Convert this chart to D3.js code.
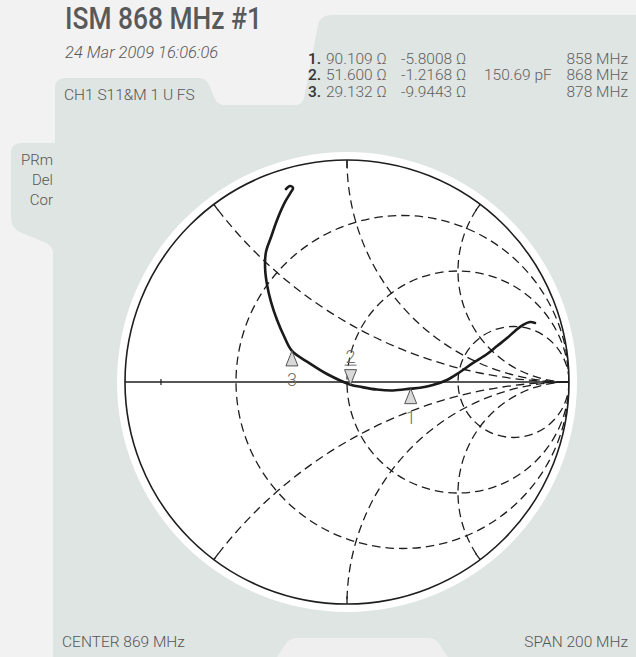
<!DOCTYPE html>
<html>
<head>
<meta charset="utf-8">
<script src="https://cdn.jsdelivr.net/npm/d3@7"></script>
<style>
  html, body { margin: 0; padding: 0; background: #f2f2f2; }
  svg { display: block; }
  text { font-family: Roboto, "Liberation Sans", "DejaVu Sans", sans-serif; }
</style>
</head>
<body>
<svg id="chart" width="636" height="657"></svg>
<script>
// ---- Sweep: S11 reflection coefficient (real / imaginary) vs frequency ----
const freqMHz = [769, 771, 774, 778, 783, 789, 796, 805, 816, 828, 840, 850, 858,
                 862, 865, 867, 868, 871, 875, 878, 881, 885, 890, 895, 901, 909,
                 918, 930, 943, 957, 963, 966, 969];
const s11Re = [0.847, 0.824, 0.793, 0.757, 0.721, 0.676, 0.631, 0.568, 0.509, 0.450,
               0.387, 0.329, 0.287, 0.207, 0.135, 0.068, 0.016, -0.090, -0.171, -0.248,
               -0.284, -0.315, -0.342, -0.360, -0.369, -0.365, -0.342, -0.315, -0.279,
               -0.252, -0.243, -0.257, -0.275];
const s11Im = [0.266, 0.270, 0.257, 0.230, 0.198, 0.162, 0.126, 0.086, 0.045, 0.009,
               -0.014, -0.026, -0.030, -0.038, -0.034, -0.023, -0.012, 0.036, 0.086, 0.140,
               0.207, 0.279, 0.360, 0.437, 0.514, 0.586, 0.653, 0.730, 0.811,
               0.856, 0.874, 0.883, 0.869];

// ---- Markers ----
const markerIds = ["1", "2", "3"];
const markerFreq = [858, 868, 878];
const markerRes = [90.109, 51.600, 29.132];      // Ω
const markerReact = [-5.8008, -1.2168, -9.9443]; // Ω
const markerCap = [null, 150.69, null];          // pF
const activeMarker = "2";

// ---- Smith grid ----
const resistanceCircles = [1 / 3, 1, 3];
const reactanceArcs = [0.5, 1, 2, -0.5, -1, -2];
const axisTicks = [-0.838];

// ---- Annotations ----
const titleText = "ISM 868 MHz #1";
const dateText = "24 Mar 2009 16:06:06";
const channelText = "CH1 S11&M 1 U FS";
const statusFlags = ["PRm", "Del", "Cor"];
const centerText = "CENTER 869 MHz";
const spanText = "SPAN 200 MHz";

const svg = d3.select("#chart");
const W = 636, H = 657;

// background + panel
svg.append("rect").attr("width", W).attr("height", H).attr("fill", "#f2f2f2");
svg.append("path")
  .attr("fill", "#dfe5e2")
  .attr("d", "M53,657 L53,252 Q52,245 44,242 L22,233 Q11,229 11,217 L11,153 Q11,143 21,143 " +
             "L55,143 L55,88 Q55,78 65,78 L199,78 Q206,78 209,85 L215,99 Q218,105 225,105 " +
             "L296,105 Q302,105 304,98 L318,25 Q320,15 331,15 L636,15 L636,657 Z");
svg.append("path")
  .attr("fill", "#efefef")
  .attr("d", "M277,657 L285,645 Q289,638 297,638 L428,638 Q436,638 440,645 L448,657 Z");

// scales for the reflection-coefficient plane
const cx = 347, cy = 382, R = 222;
const gx = d3.scaleLinear().domain([-1, 1]).range([cx - R, cx + R]);
const gy = d3.scaleLinear().domain([-1, 1]).range([cy + R, cy - R]);
const rad = v => gx(v) - gx(0);

svg.append("circle").attr("cx", gx(0)).attr("cy", gy(0)).attr("r", rad(1) + 8).attr("fill", "#ffffff");

svg.append("defs").append("clipPath").attr("id", "unit")
  .append("circle").attr("cx", gx(0)).attr("cy", gy(0)).attr("r", rad(1));

const grid = svg.append("g").attr("clip-path", "url(#unit)")
  .attr("fill", "none").attr("stroke", "#1e1e1e").attr("stroke-width", 1.3)
  .attr("stroke-dasharray", "8.5,5");

grid.selectAll("circle.r").data(resistanceCircles).join("circle")
  .attr("class", "r")
  .attr("cx", r => gx(r / (1 + r)))
  .attr("cy", gy(0))
  .attr("r", r => rad(1 / (1 + r)));

grid.selectAll("circle.x").data(reactanceArcs).join("circle")
  .attr("class", "x")
  .attr("cx", gx(1))
  .attr("cy", x => gy(1 / x))
  .attr("r", x => rad(1 / Math.abs(x)));

// real axis
svg.append("line")
  .attr("x1", gx(-1)).attr("x2", gx(1)).attr("y1", gy(0)).attr("y2", gy(0))
  .attr("stroke", "#1e1e1e").attr("stroke-width", 1.3);

// outer rim
svg.append("circle").attr("cx", gx(0)).attr("cy", gy(0)).attr("r", rad(1))
  .attr("fill", "none").attr("stroke", "#1e1e1e").attr("stroke-width", 1.6);

// rim ticks where reactance arcs meet the rim
svg.selectAll("line.rimtick").data(reactanceArcs).join("line")
  .attr("class", "rimtick")
  .each(function (x) {
    const re = (x * x - 1) / (x * x + 1), im = 2 * x / (x * x + 1);
    d3.select(this)
      .attr("x1", gx(re)).attr("y1", gy(im))
      .attr("x2", gx(re * 0.965)).attr("y2", gy(im * 0.965));
  })
  .attr("stroke", "#1e1e1e").attr("stroke-width", 1.3);

svg.selectAll("line.axtick").data(axisTicks).join("line")
  .attr("class", "axtick")
  .attr("x1", d => gx(d)).attr("x2", d => gx(d))
  .attr("y1", gy(0) - 3).attr("y2", gy(0) + 3)
  .attr("stroke", "#1e1e1e").attr("stroke-width", 1.2);

// trace
const pts = freqMHz.map((f, i) => [s11Re[i], s11Im[i]]);
const line = d3.line().x(d => gx(d[0])).y(d => gy(d[1])).curve(d3.curveCatmullRom.alpha(0.5));
svg.append("path").datum(pts).attr("d", line)
  .attr("fill", "none").attr("stroke", "#1a1a1a").attr("stroke-width", 2.6)
  .attr("stroke-linecap", "round").attr("stroke-linejoin", "round");

// markers placed on the trace at their frequencies
const interp = f => {
  const i = Math.max(1, Math.min(freqMHz.length - 1, d3.bisectLeft(freqMHz, f)));
  const t = (f - freqMHz[i - 1]) / (freqMHz[i] - freqMHz[i - 1]);
  return [s11Re[i - 1] + t * (s11Re[i] - s11Re[i - 1]), s11Im[i - 1] + t * (s11Im[i] - s11Im[i - 1])];
};
const mk = svg.append("g");
markerIds.forEach((id, i) => {
  const [re, im] = interp(markerFreq[i]);
  const px = gx(re), py = gy(im);
  const active = id === activeMarker;
  const dir = active ? -1 : 1;
  mk.append("path")
    .attr("d", `M${px},${py} L${px - 6},${py + dir * 15} L${px + 6},${py + dir * 15} Z`)
    .attr("fill", "#d9d9d9").attr("stroke", "#555").attr("stroke-width", 1);
  mk.append("text")
    .attr("x", px).attr("y", active ? py - 22 : py + 35)
    .attr("text-anchor", "middle").attr("font-size", 18).attr("font-weight", 300)
    .attr("fill", "#6e6e6e").text(id);
  if (active) {
    mk.append("line").attr("x1", px - 6).attr("x2", px + 6)
      .attr("y1", py - 19.5).attr("y2", py - 19.5)
      .attr("stroke", "#6e6e6e").attr("stroke-width", 1);
  }
});

// header texts
svg.append("text").attr("x", 65).attr("y", 29).attr("font-size", 31).attr("font-weight", 500)
  .attr("fill", "#58595b").attr("textLength", 197).attr("lengthAdjust", "spacingAndGlyphs")
  .text(titleText);
svg.append("text").attr("x", 65).attr("y", 58).attr("font-size", 16.5).attr("font-style", "italic")
  .attr("font-weight", 300).attr("fill", "#5a5a5a").text(dateText);
svg.append("text").attr("x", 64).attr("y", 100).attr("font-size", 15.5).attr("font-weight", 300)
  .attr("fill", "#555").text(channelText);

svg.selectAll("text.flag").data(statusFlags).join("text")
  .attr("class", "flag")
  .attr("x", 53).attr("y", (d, i) => 165 + i * 20)
  .attr("text-anchor", "end").attr("font-size", 15).attr("font-weight", 300)
  .attr("fill", "#555").text(d => d);

// marker readout
const rows = svg.append("g").attr("font-size", 15.5).attr("font-weight", 300).attr("fill", "#5f5f5f");
markerIds.forEach((id, i) => {
  const y = 63.5 + i * 16.7;
  rows.append("text").attr("x", 308).attr("y", y).attr("font-weight", 500).attr("fill", "#333").text(id + ".");
  rows.append("text").attr("x", 326).attr("y", y).text(markerRes[i].toFixed(3) + " Ω");
  rows.append("text").attr("x", 401).attr("y", y).text(markerReact[i].toFixed(4) + " Ω");
  if (markerCap[i] !== null) rows.append("text").attr("x", 484).attr("y", y).text(markerCap[i].toFixed(2) + " pF");
  rows.append("text").attr("x", 628).attr("y", y).attr("text-anchor", "end").text(markerFreq[i] + " MHz");
});

// footer
svg.append("text").attr("x", 62).attr("y", 647).attr("font-size", 15.5).attr("font-weight", 300)
  .attr("fill", "#555").text(centerText);
svg.append("text").attr("x", 628).attr("y", 647).attr("text-anchor", "end").attr("font-size", 15.5)
  .attr("font-weight", 300).attr("fill", "#555").text(spanText);
</script>
</body>
</html>
